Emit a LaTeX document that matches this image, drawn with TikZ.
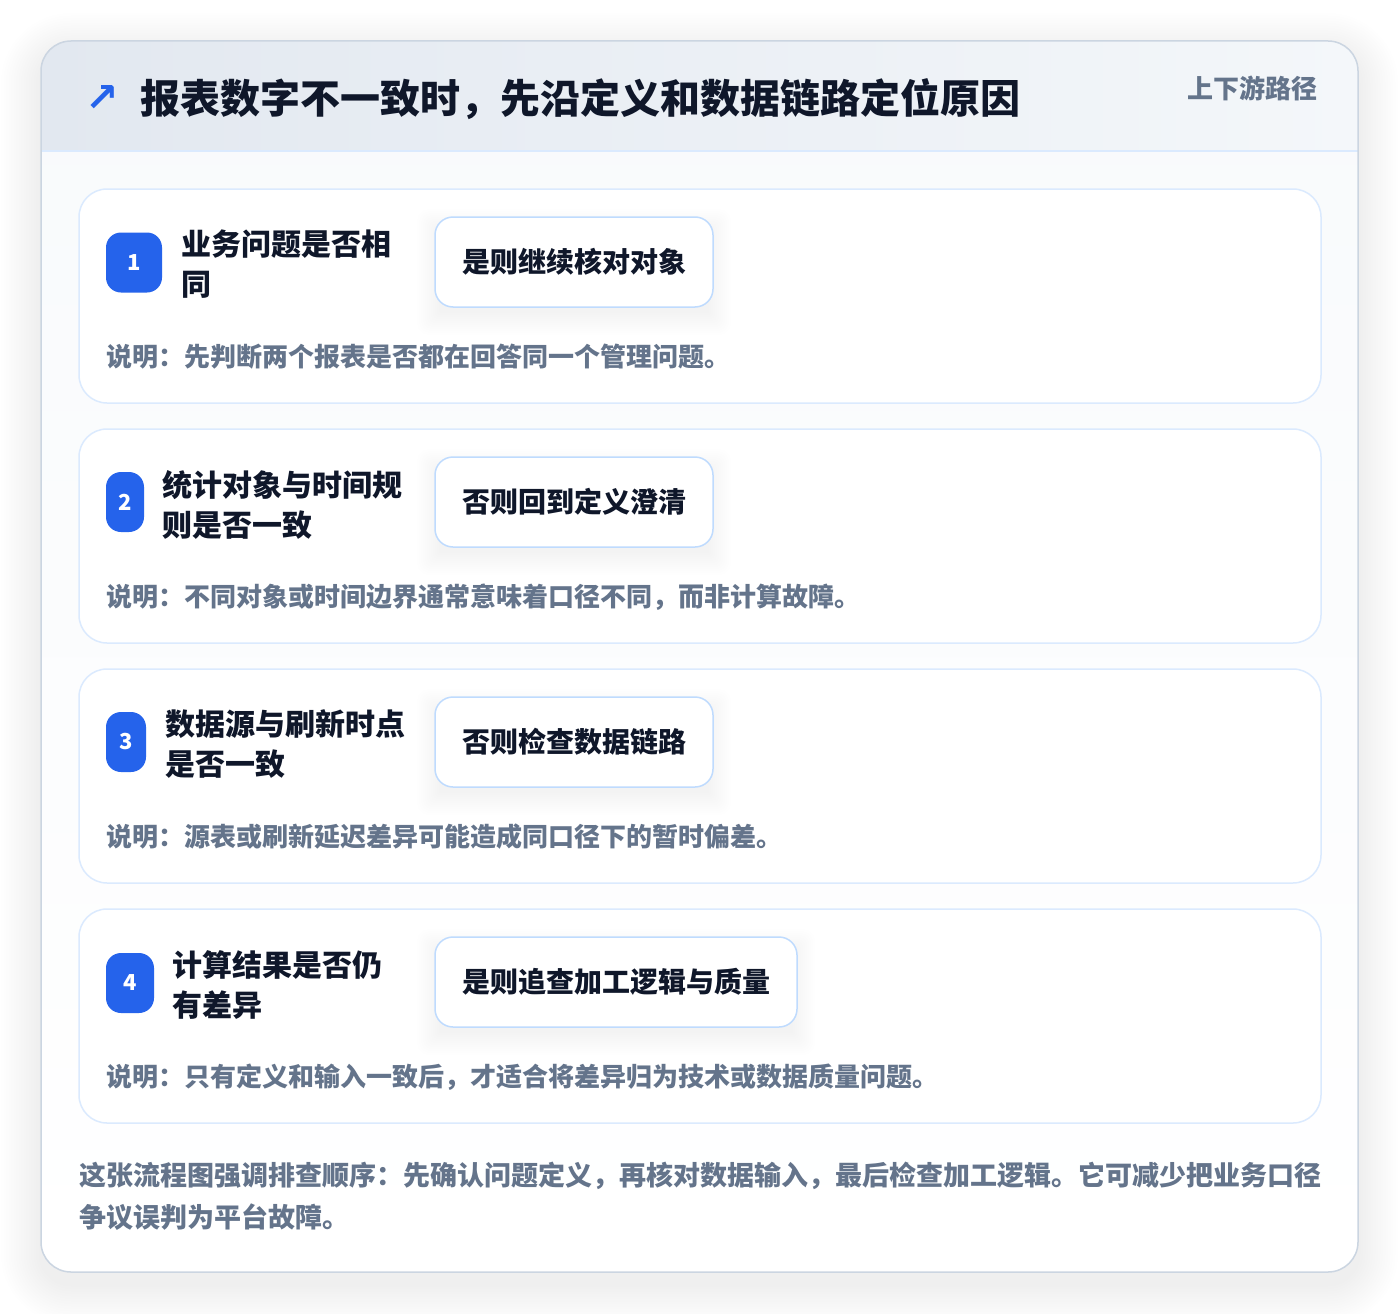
\documentclass[tikz,border=0pt]{standalone}
\usepackage{fontspec}
\usepackage{tikz}
\setmainfont{Noto Sans CJK SC}
\newfontfamily\iconfont{DejaVu Sans}

\definecolor{Ink}{HTML}{0F172A}
\definecolor{Muted}{HTML}{64748B}
\definecolor{Accent}{HTML}{2563EB}
\definecolor{FrameLine}{HTML}{CBD5E1}
\definecolor{CardLine}{HTML}{DBEAFE}
\definecolor{BoxLine}{HTML}{BFDBFE}
\definecolor{HeadLeft}{HTML}{E2E8F0}
\definecolor{HeadRight}{HTML}{F4F7FA}
\definecolor{BodyTop}{HTML}{F8FAFC}

\begin{document}
\begin{tikzpicture}[x=1pt,y=-1pt]
  \tikzset{FrameStyle/.style = {
    shape           = rectangle,
    rounded corners = 30pt,
    top color       = BodyTop,
    bottom color    = white,
    minimum width   = 1317pt,
    minimum height  = 1231pt,
    inner sep       = 0pt,
    outer sep       = 0pt
    }
  }
  \tikzset{CardStyle/.style = {
    shape           = rectangle,
    rounded corners = 28pt,
    draw            = CardLine,
    fill            = white,
    line width      = 1.5pt,
    minimum width   = 1242pt,
    minimum height  = 214pt,
    inner sep       = 0pt,
    outer sep       = 0pt
    }
  }
  \tikzset{BadgeStyle/.style = {
    shape           = rectangle,
    rounded corners = 15pt,
    fill            = Accent,
    text            = white,
    font            = \fontsize{22}{22}\selectfont\bfseries,
    minimum height  = 60pt,
    inner sep       = 0pt,
    outer sep       = 0pt
    }
  }
  \tikzset{ActionStyle/.style = {
    shape           = rectangle,
    rounded corners = 18pt,
    draw            = BoxLine,
    fill            = white,
    line width      = 1.5pt,
    text            = Ink,
    font            = \fontsize{28}{28}\selectfont\bfseries,
    inner xsep      = 27pt,
    minimum height  = 90pt,
    outer sep       = 0pt
    }
  }
  \tikzset{StepTitleStyle/.style = {
    align           = left,
    text            = Ink,
    font            = \fontsize{30}{40}\selectfont\bfseries,
    inner sep       = 0pt,
    anchor          = north west
    }
  }
  \tikzset{NoteStyle/.style = {
    text            = Muted,
    font            = \fontsize{26}{26}\selectfont\bfseries,
    inner sep       = 0pt,
    anchor          = base west
    }
  }

  \useasboundingbox (0,0) rectangle (1400,1314);
  \fill[white] (0,0) rectangle (1400,1314);

  \foreach \s [evaluate=\s as \r using 30+2.5*\s] in {1,...,16}
    \fill[black, opacity=0.0055, rounded corners=\r pt]
      (41-2.5*\s, 53-2.5*\s) rectangle (1358+2.5*\s, 1284+2.5*\s);

  \node[FrameStyle] (Frame) at (699.5,656.5) {};
  \begin{scope}
    \clip[rounded corners=30pt] (Frame.south west) rectangle (Frame.north east);
    \fill[left color=HeadLeft, right color=HeadRight] (41,41) rectangle (1358,151);
  \end{scope}
  \draw[CardLine, line width=2pt] (Frame.west |- 0,151) -- (Frame.east |- 0,151);
  \draw[FrameLine, line width=1.5pt, rounded corners=30pt] (Frame.south west) rectangle (Frame.north east);

  \node[text=Accent, font=\fontsize{40}{40}\selectfont\iconfont\bfseries, inner sep=0pt] (Icon) at (102,99) {↗};
  \node[text=Ink, font=\fontsize{40}{40}\selectfont\bfseries, inner sep=0pt, anchor=base west] (Heading) at (140,113) {报表数字不一致时，先沿定义和数据链路定位原因};
  \node[text=Muted, font=\fontsize{26}{26}\selectfont\bfseries, inner sep=0pt, anchor=base east] (Route) at (1318,99) {上下游路径};

  \node[CardStyle](Card1) at (700,296) {};
  \node[CardStyle](Card2) at (700,536) {};
  \node[CardStyle](Card3) at (700,776) {};
  \node[CardStyle](Card4) at (700,1016) {};

  \node[BadgeStyle, minimum width=56pt](Badge1) at (134,262.5) {1};
  \node[BadgeStyle, minimum width=38pt](Badge2) at (125,502) {2};
  \node[BadgeStyle, minimum width=40pt](Badge3) at (126,742) {3};
  \node[BadgeStyle, minimum width=48pt](Badge4) at (130,983) {4};

  \node[StepTitleStyle](Step1) at (181,230) {业务问题是否相\\同};
  \node[StepTitleStyle](Step2) at (162,470) {统计对象与时间规\\则是否一致};
  \node[StepTitleStyle](Step3) at (165,709) {数据源与刷新时点\\是否一致};
  \node[StepTitleStyle](Step4) at (172,950) {计算结果是否仍\\有差异};

  \foreach \y/\w in {262/278, 502/278, 742/278, 982/362}
    \foreach \s [evaluate=\s as \r using 12+2*\s] in {1,...,12}
      \fill[black, opacity=0.0035, rounded corners=\r pt]
        (441-2*\s, \y-39+10-2*\s) rectangle (429+\w+2*\s, \y+39+10+2*\s);

  \node[ActionStyle, anchor=west](Action1) at (435,262) {是则继续核对对象};
  \node[ActionStyle, anchor=west](Action2) at (435,502) {否则回到定义澄清};
  \node[ActionStyle, anchor=west](Action3) at (435,742) {否则检查数据链路};
  \node[ActionStyle, anchor=west](Action4) at (435,982) {是则追查加工逻辑与质量};

  \node[NoteStyle](Note1) at (106,366.9) {说明：先判断两个报表是否都在回答同一个管理问题。};
  \node[NoteStyle](Note2) at (106,606.9) {说明：不同对象或时间边界通常意味着口径不同，而非计算故障。};
  \node[NoteStyle](Note3) at (106,846.9) {说明：源表或刷新延迟差异可能造成同口径下的暂时偏差。};
  \node[NoteStyle](Note4) at (106,1086.9) {说明：只有定义和输入一致后，才适合将差异归为技术或数据质量问题。};

  \node[text=Muted, font=\fontsize{27}{42}\selectfont\bfseries, align=left, inner sep=0pt, anchor=north west] (Summary) at (79,1162) {这张流程图强调排查顺序：先确认问题定义，再核对数据输入，最后检查加工逻辑。它可减少把业务口径\\争议误判为平台故障。};
\end{tikzpicture}
\end{document}
